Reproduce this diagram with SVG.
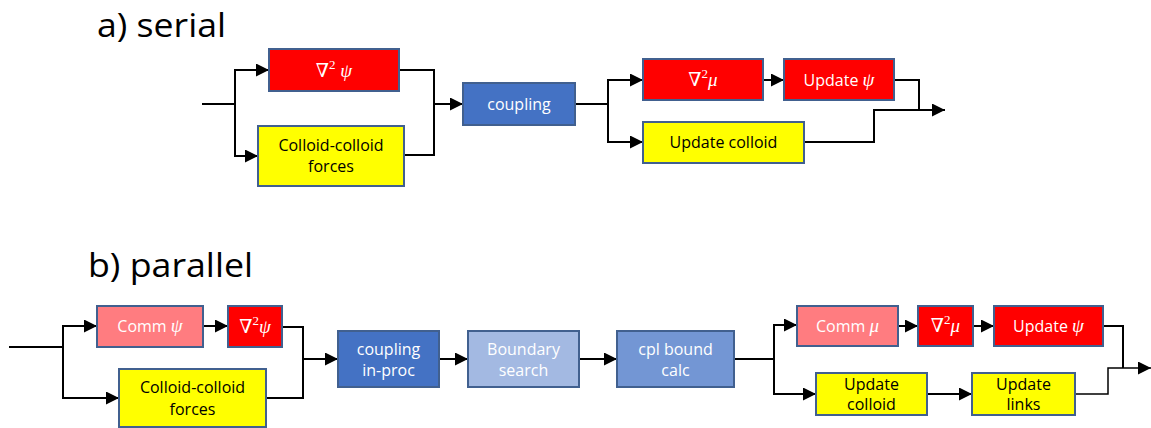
<svg xmlns="http://www.w3.org/2000/svg" width="1151" height="428" viewBox="0 0 1151 428">
<style>
.box{stroke:#41608F;stroke-width:2}
.red{fill:#FF0000}.yel{fill:#FFFF00}.blue{fill:#4472C4}.pink{fill:#FF7C80}.lblue{fill:#A3B9E2}.mblue{fill:#7396D4}
text{font-family:"Open Sans","Liberation Sans",sans-serif;font-size:16px;text-anchor:middle}
.w{fill:#FFFFFF}.k{fill:#000000}
.m{font-family:"Liberation Serif","DejaVu Serif",serif;font-size:19px}
.i{font-style:italic}
.sup{font-size:13px}
.title{font-size:33px;text-anchor:start;fill:#000}
.c{fill:none;stroke:#000;stroke-width:2}
.t{fill:none;stroke:#000;stroke-width:1.5}
</style>
<defs>
<marker id="ah" markerUnits="userSpaceOnUse" markerWidth="14" markerHeight="13" refX="13" refY="6.5" orient="auto">
<path d="M0,0 L13,6.5 L0,13 z" fill="#000"/>
</marker>
</defs>
<rect width="1151" height="428" fill="#fff"/>
<text class="title" x="97" y="37" textLength="129" lengthAdjust="spacingAndGlyphs">a) serial</text>
<text class="title" x="88" y="277" textLength="165" lengthAdjust="spacingAndGlyphs">b) parallel</text>

<g id="connectors">
<path class="c" d="M202,104 H235"/>
<path class="c" d="M235,104 V70 H269" marker-end="url(#ah)"/>
<path class="c" d="M235,104 V156 H258" marker-end="url(#ah)"/>
<path class="c" d="M399,70 H434 V155 H404"/>
<path class="c" d="M434,104 H463" marker-end="url(#ah)"/>
<path class="c" d="M575,104 H608"/>
<path class="c" d="M608,104 V80 H643" marker-end="url(#ah)"/>
<path class="c" d="M608,104 V142 H643" marker-end="url(#ah)"/>
<path class="c" d="M763,80 H784" marker-end="url(#ah)"/>
<path class="c" d="M894,80 H919 V110"/>
<path class="c" d="M804,142 H874 V110 H945" marker-end="url(#ah)"/>

<path class="c" d="M9,347 H63"/>
<path class="c" d="M63,347 V326 H97" marker-end="url(#ah)"/>
<path class="c" d="M63,347 V398 H119" marker-end="url(#ah)"/>
<path class="c" d="M203,326 H228" marker-end="url(#ah)"/>
<path class="c" d="M282,327 H303 V398 H266"/>
<path class="c" d="M303,359 H338" marker-end="url(#ah)"/>
<path class="c" d="M439,359 H468" marker-end="url(#ah)"/>
<path class="c" d="M579,359 H617" marker-end="url(#ah)"/>
<path class="c" d="M734,359 H774"/>
<path class="c" d="M774,359 V325 H797" marker-end="url(#ah)"/>
<path class="c" d="M774,359 V394 H816" marker-end="url(#ah)"/>
<path class="c" d="M898,326 H918" marker-end="url(#ah)"/>
<path class="c" d="M973,326 H994" marker-end="url(#ah)"/>
<path class="c" d="M927,394 H972" marker-end="url(#ah)"/>
<path class="c" d="M1103,326 H1123 V368"/>
<path class="t" d="M1075,394 H1108 V368 H1151" marker-end="url(#ah)"/>
</g>

<g id="s_lap_psi"><rect class="box red" x="269" y="49" width="130" height="42"/>
<text class="w m" x="334" y="77">∇<tspan class="sup" dy="-8">2</tspan><tspan class="i" dy="8"> ψ</tspan></text></g>
<g id="s_colloid"><rect class="box yel" x="258" y="126" width="146" height="60"/>
<text class="k" x="331" y="151">Colloid-colloid</text><text class="k" x="331" y="172">forces</text></g>
<g id="s_coupling"><rect class="box blue" x="463" y="83" width="112" height="42"/>
<text class="w" x="519" y="110">coupling</text></g>
<g id="s_lap_mu"><rect class="box red" x="643" y="59" width="120" height="41"/>
<text class="w m" x="703" y="86">∇<tspan class="sup" dy="-8">2</tspan><tspan class="i" dy="8">μ</tspan></text></g>
<g id="s_update_psi"><rect class="box red" x="784" y="59" width="110" height="41"/>
<text class="w" x="839" y="86">Update <tspan class="m i">ψ</tspan></text></g>
<g id="s_update_colloid"><rect class="box yel" x="643" y="122" width="161" height="41"/>
<text class="k" x="723.5" y="148">Update colloid</text></g>

<g id="p_comm_psi"><rect class="box pink" x="97" y="306" width="106" height="41"/>
<text class="w" x="150" y="332">Comm <tspan class="m i">ψ</tspan></text></g>
<g id="p_lap_psi"><rect class="box red" x="228" y="306" width="54" height="41"/>
<text class="w m" x="255" y="333">∇<tspan class="sup" dy="-8">2</tspan><tspan class="i" dy="8">ψ</tspan></text></g>
<g id="p_colloid"><rect class="box yel" x="119" y="369" width="147" height="58"/>
<text class="k" x="192.5" y="393">Colloid-colloid</text><text class="k" x="192.5" y="415">forces</text></g>
<g id="p_coupling"><rect class="box blue" x="338" y="331" width="101" height="56"/>
<text class="w" x="388.5" y="355">coupling</text><text class="w" x="388.5" y="376">in-proc</text></g>
<g id="p_boundary"><rect class="box lblue" x="468" y="331" width="111" height="56"/>
<text class="w" x="523.5" y="355">Boundary</text><text class="w" x="523.5" y="376">search</text></g>
<g id="p_cpl"><rect class="box mblue" x="617" y="331" width="117" height="56"/>
<text class="w" x="675.5" y="355">cpl bound</text><text class="w" x="675.5" y="376">calc</text></g>
<g id="p_comm_mu"><rect class="box pink" x="797" y="306" width="101" height="40"/>
<text class="w" x="847.5" y="332">Comm <tspan class="m i">μ</tspan></text></g>
<g id="p_lap_mu"><rect class="box red" x="918" y="306" width="55" height="40"/>
<text class="w m" x="945.5" y="332">∇<tspan class="sup" dy="-8">2</tspan><tspan class="i" dy="8">μ</tspan></text></g>
<g id="p_update_psi"><rect class="box red" x="994" y="306" width="109" height="40"/>
<text class="w" x="1048.5" y="332">Update <tspan class="m i">ψ</tspan></text></g>
<g id="p_update_colloid"><rect class="box yel" x="816" y="373" width="111" height="42"/>
<text class="k" x="871.5" y="390">Update</text><text class="k" x="871.5" y="410">colloid</text></g>
<g id="p_update_links"><rect class="box yel" x="972" y="373" width="103" height="42"/>
<text class="k" x="1023.5" y="390">Update</text><text class="k" x="1023.5" y="410">links</text></g>
</svg>
